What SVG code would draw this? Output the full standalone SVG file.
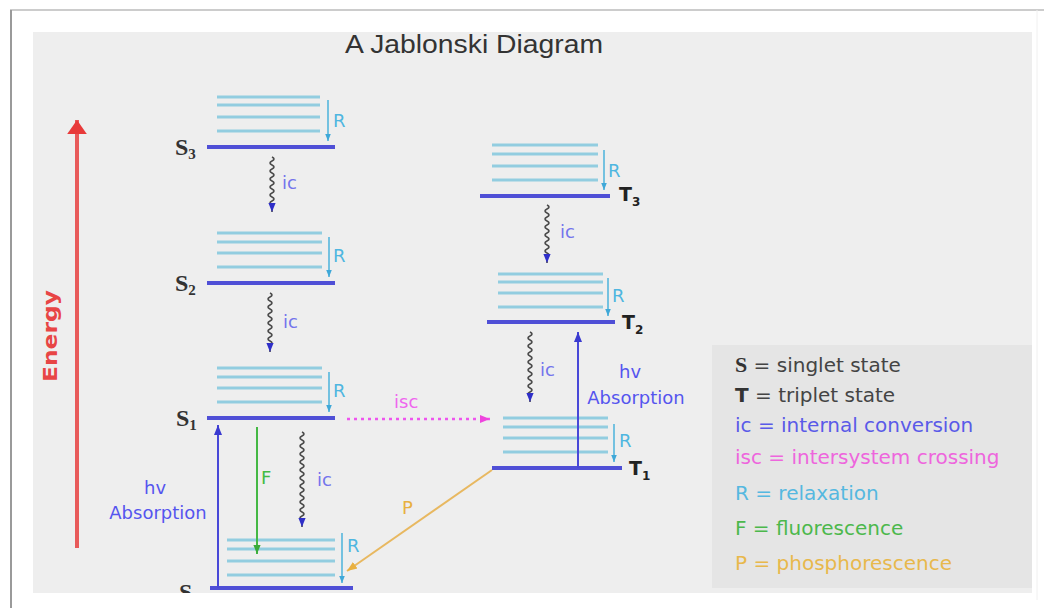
<svg xmlns="http://www.w3.org/2000/svg" width="1044" height="608" viewBox="0 0 1044 608">
<style>
.main{stroke:#4f4fd6;stroke-width:4;fill:none}
.vib{stroke:#92cde0;stroke-width:3;fill:none}
.rarr{stroke:#55b6dc;stroke-width:1.6;fill:none;marker-end:url(#mCyan)}
.wave{stroke:#4a4a4a;stroke-width:1.6;fill:none;marker-end:url(#mBlue)}
.lbl{font-family:"DejaVu Sans",Verdana,sans-serif;font-size:18px}
.ic{fill:#7474ec}
.rl{fill:#4fb6e0}
.sl{font-family:"Liberation Serif","Times New Roman",serif;font-weight:bold;fill:#333}
.tl{font-family:"DejaVu Sans",sans-serif;font-weight:bold;fill:#222}
.leg{font-family:"DejaVu Sans",Verdana,sans-serif;font-size:20px}
</style>
<defs>
<marker id="mBlue" markerUnits="userSpaceOnUse" markerWidth="9" markerHeight="9" viewBox="0 0 10 10" refX="10" refY="5" orient="auto"><path d="M0,1 L10,5 L0,9 z" fill="#2f2fc8"/></marker>
<marker id="mAbs" markerUnits="userSpaceOnUse" markerWidth="10" markerHeight="10" viewBox="0 0 10 10" refX="10" refY="5" orient="auto"><path d="M0,1 L10,5 L0,9 z" fill="#3a3ad0"/></marker>
<marker id="mCyan" markerUnits="userSpaceOnUse" markerWidth="7" markerHeight="7" viewBox="0 0 10 10" refX="10" refY="5" orient="auto"><path d="M0,1 L10,5 L0,9 z" fill="#3fa8d8"/></marker>
<marker id="mGreen" markerUnits="userSpaceOnUse" markerWidth="9" markerHeight="9" viewBox="0 0 10 10" refX="10" refY="5" orient="auto"><path d="M0,1 L10,5 L0,9 z" fill="#3aaa3a"/></marker>
<marker id="mMag" markerUnits="userSpaceOnUse" markerWidth="10" markerHeight="10" viewBox="0 0 10 10" refX="10" refY="5" orient="auto"><path d="M0,1 L10,5 L0,9 z" fill="#ee44dd"/></marker>
<marker id="mOr" markerUnits="userSpaceOnUse" markerWidth="10" markerHeight="10" viewBox="0 0 10 10" refX="10" refY="5" orient="auto"><path d="M0,1 L10,5 L0,9 z" fill="#e8b040"/></marker>
<marker id="mRed" markerUnits="userSpaceOnUse" markerWidth="14" markerHeight="28" viewBox="0 0 10 20" refX="10" refY="10" orient="auto"><path d="M0,3 L10,10 L0,17 z" fill="#e83a3a"/></marker>
<clipPath id="panelClip"><rect x="33" y="32" width="999" height="561"/></clipPath>
</defs>

<rect x="0" y="0" width="1044" height="608" fill="#ffffff"/>
<line x1="10" y1="10" x2="1044" y2="10" stroke="#cccccc" stroke-width="2"/>
<line x1="11" y1="10" x2="11" y2="608" stroke="#9a9a9a" stroke-width="2"/>
<line x1="1037" y1="10" x2="1037" y2="600" stroke="#f0f0f0" stroke-width="1"/>
<rect x="33" y="32" width="999" height="561" fill="#eeeeee"/>
<rect id="legend-box" x="712" y="345" width="320" height="243" fill="#e5e5e5"/>

<text id="title" x="345" y="53" font-family="Liberation Sans, Arial, sans-serif" font-size="25" font-weight="500" fill="#333" textLength="258" lengthAdjust="spacingAndGlyphs">A Jablonski Diagram</text>

<g id="energy-axis">
<line x1="77" y1="548" x2="77" y2="120" stroke="#e85a5a" stroke-width="4" marker-end="url(#mRed)"/>
<text x="0" y="0" transform="translate(57,336) rotate(-90)" text-anchor="middle" font-family="DejaVu Sans, sans-serif" font-weight="bold" font-size="20" fill="#e84545" textLength="92" lengthAdjust="spacingAndGlyphs">Energy</text>
</g>

<g id="S3">
<line class="vib" x1="217" y1="97" x2="320" y2="97"/>
<line class="vib" x1="217" y1="105" x2="320" y2="105"/>
<line class="vib" x1="217" y1="117" x2="320" y2="117"/>
<line class="vib" x1="217" y1="131" x2="320" y2="131"/>
<line class="main" x1="207" y1="147" x2="335" y2="147"/>
<line class="rarr" x1="328" y1="100" x2="328" y2="141"/>
<text class="lbl rl" x="333" y="127">R</text>
<text class="sl" x="175" y="155" font-size="24">S<tspan font-size="15" dy="4">3</tspan></text>
</g>

<g id="S2">
<line class="vib" x1="217" y1="233" x2="322" y2="233"/>
<line class="vib" x1="217" y1="242" x2="322" y2="242"/>
<line class="vib" x1="217" y1="253" x2="322" y2="253"/>
<line class="vib" x1="217" y1="267" x2="322" y2="267"/>
<line class="main" x1="207" y1="283" x2="335" y2="283"/>
<line class="rarr" x1="329" y1="237" x2="329" y2="277"/>
<text class="lbl rl" x="333" y="262">R</text>
<text class="sl" x="175" y="291" font-size="24">S<tspan font-size="15" dy="4">2</tspan></text>
</g>

<g id="S1">
<line class="vib" x1="217" y1="368" x2="322" y2="368"/>
<line class="vib" x1="217" y1="377" x2="322" y2="377"/>
<line class="vib" x1="217" y1="388" x2="322" y2="388"/>
<line class="vib" x1="217" y1="402" x2="322" y2="402"/>
<line class="main" x1="207" y1="418" x2="335" y2="418"/>
<line class="rarr" x1="329" y1="372" x2="329" y2="412"/>
<text class="lbl rl" x="333" y="397">R</text>
<text class="sl" x="176" y="426" font-size="24">S<tspan font-size="15" dy="4">1</tspan></text>
</g>

<g id="S0">
<line class="vib" x1="227" y1="540" x2="335" y2="540"/>
<line class="vib" x1="227" y1="549" x2="335" y2="549"/>
<line class="vib" x1="227" y1="561" x2="335" y2="561"/>
<line class="vib" x1="227" y1="575" x2="335" y2="575"/>
<line class="main" x1="210" y1="588" x2="353" y2="588"/>
<line class="rarr" x1="342" y1="533" x2="342" y2="583"/>
<text class="lbl rl" x="347" y="552">R</text>
<g clip-path="url(#panelClip)"><text class="sl" x="179" y="600" font-size="24">S<tspan font-size="15" dy="4">0</tspan></text></g>
</g>

<g id="T3">
<line class="vib" x1="492" y1="145" x2="598" y2="145"/>
<line class="vib" x1="492" y1="154" x2="598" y2="154"/>
<line class="vib" x1="492" y1="166" x2="598" y2="166"/>
<line class="vib" x1="492" y1="180" x2="598" y2="180"/>
<line class="main" x1="480" y1="196" x2="610" y2="196"/>
<line class="rarr" x1="604" y1="150" x2="604" y2="190"/>
<text class="lbl rl" x="608" y="177">R</text>
<text class="tl" x="619" y="201" font-size="19">T<tspan font-size="12" dy="5">3</tspan></text>
</g>

<g id="T2">
<line class="vib" x1="498" y1="274" x2="603" y2="274"/>
<line class="vib" x1="498" y1="282" x2="603" y2="282"/>
<line class="vib" x1="498" y1="293" x2="603" y2="293"/>
<line class="vib" x1="498" y1="307" x2="603" y2="307"/>
<line class="main" x1="487" y1="322" x2="615" y2="322"/>
<line class="rarr" x1="608" y1="278" x2="608" y2="316"/>
<text class="lbl rl" x="612" y="302">R</text>
<text class="tl" x="622" y="329" font-size="19">T<tspan font-size="12" dy="5">2</tspan></text>
</g>

<g id="T1">
<line class="vib" x1="503" y1="418" x2="608" y2="418"/>
<line class="vib" x1="503" y1="427" x2="608" y2="427"/>
<line class="vib" x1="503" y1="438" x2="608" y2="438"/>
<line class="vib" x1="503" y1="452" x2="608" y2="452"/>
<line class="main" x1="492" y1="468" x2="622" y2="468"/>
<line class="rarr" x1="614" y1="424" x2="614" y2="462"/>
<text class="lbl rl" x="619" y="447">R</text>
<text class="tl" x="629" y="475" font-size="19">T<tspan font-size="12" dy="5">1</tspan></text>
</g>

<g id="connectors">
<path class="wave" d="M272 157 q4 2 0 4 t0 4 t0 4 t0 4 t0 4 t0 4 t0 4 t0 4 t0 4 t0 4 t0 4 t0 4 L272 212"/>
<text class="lbl ic" x="282" y="189">ic</text>
<path class="wave" d="M270 293 q4 2 0 4 t0 4 t0 4 t0 4 t0 4 t0 4 t0 4 t0 4 t0 4 t0 4 t0 4 t0 4 t0 4 L270 352"/>
<text class="lbl ic" x="283" y="328">ic</text>
<path class="wave" d="M302 432 q4 2 0 4 t0 4 t0 4 t0 4 t0 4 t0 4 t0 4 t0 4 t0 4 t0 4 t0 4 t0 4 t0 4 t0 4 t0 4 t0 4 t0 4 t0 4 t0 4 t0 4 t0 4 t0 4 L302 527"/>
<text class="lbl ic" x="317" y="486">ic</text>
<path class="wave" d="M547 205 q4 2 0 4 t0 4 t0 4 t0 4 t0 4 t0 4 t0 4 t0 4 t0 4 t0 4 t0 4 t0 4 t0 4 L547 263"/>
<text class="lbl ic" x="560" y="238">ic</text>
<path class="wave" d="M530 332 q4 2 0 4 t0 4 t0 4 t0 4 t0 4 t0 4 t0 4 t0 4 t0 4 t0 4 t0 4 t0 4 t0 4 t0 4 t0 4 t0 4 L530 402"/>
<text class="lbl ic" x="540" y="376">ic</text>

<line x1="347" y1="419" x2="490" y2="419" stroke="#ee55ee" stroke-width="2.5" stroke-dasharray="3 4" marker-end="url(#mMag)"/>
<text class="lbl" x="394" y="408" fill="#ee66ee">isc</text>

<line x1="218" y1="588" x2="218" y2="425" stroke="#4848d8" stroke-width="2" marker-end="url(#mAbs)"/>
<text class="lbl" x="155" y="494" text-anchor="middle" fill="#5555ee">hv</text>
<text class="lbl" x="158" y="519" text-anchor="middle" fill="#5555ee">Absorption</text>

<line x1="578" y1="468" x2="578" y2="332" stroke="#4848d8" stroke-width="2" marker-end="url(#mAbs)"/>
<text class="lbl" x="630" y="378" text-anchor="middle" fill="#5555ee">hv</text>
<text class="lbl" x="636" y="404" text-anchor="middle" fill="#5555ee">Absorption</text>

<line x1="257" y1="427" x2="257" y2="554" stroke="#44b844" stroke-width="2" marker-end="url(#mGreen)"/>
<text class="lbl" x="261" y="484" fill="#44bb44">F</text>

<line x1="492" y1="470" x2="347" y2="571" stroke="#e8b860" stroke-width="2" marker-end="url(#mOr)"/>
<text class="lbl" x="402" y="514" fill="#e8b040">P</text>
</g>

<g id="legend">
<text class="leg" x="735" y="372" fill="#444"><tspan font-family="Liberation Serif, serif" font-weight="bold" font-size="22" fill="#333">S</tspan> = singlet state</text>
<text class="leg" x="735" y="402" fill="#444"><tspan font-weight="bold" fill="#333">T</tspan> = triplet state</text>
<text class="leg" x="735" y="432" fill="#5a5ae8">ic = internal conversion</text>
<text class="leg" x="735" y="464" fill="#ee66dd">isc = intersystem crossing</text>
<text class="leg" x="735" y="500" fill="#55b8e0">R = relaxation</text>
<text class="leg" x="735" y="535" fill="#4cb84c">F = fluorescence</text>
<text class="leg" x="735" y="570" fill="#e8b84c">P = phosphorescence</text>
</g>
</svg>
